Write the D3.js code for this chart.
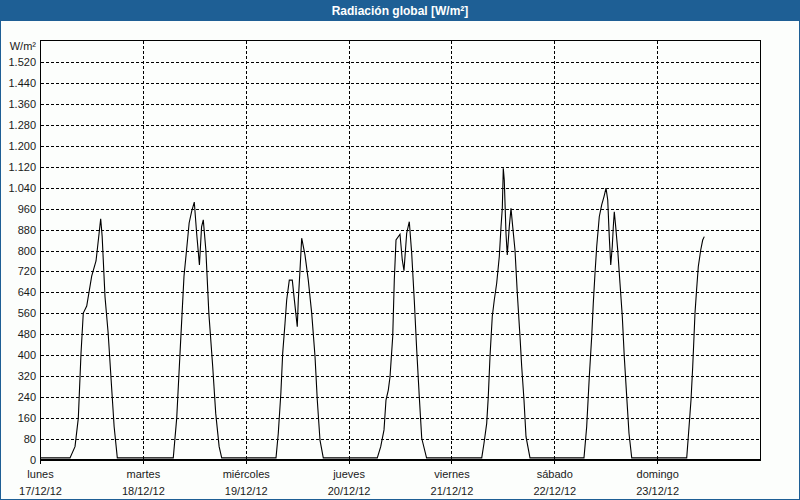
<!DOCTYPE html>
<html><head><meta charset="utf-8">
<script src="https://cdn.jsdelivr.net/npm/d3@7"></script>
<style>
html,body{margin:0;padding:0;background:#fcfefc;}
svg{display:block;}
text{font-family:"Liberation Sans",Arial,sans-serif;}
</style></head>
<body>
<svg id="chart" width="800" height="500"></svg>
<script>
// ---- data ----
const title = "Radiación global [W/m²]";
const unitLabel = "W/m²";
const dayNames = ["lunes","martes","miércoles","jueves","viernes","sábado","domingo"];
const dayDates = ["17/12/12","18/12/12","19/12/12","20/12/12","21/12/12","22/12/12","23/12/12"];
const yTicks = [0,80,160,240,320,400,480,560,640,720,800,880,960,1040,1120,1200,1280,1360,1440,1520];
// hours since 17/12/12 00:00
const hours = [
  0, 7.0, 8.17, 8.94, 9.57, 10.1, 10.9, 12.06, 13.07, 13.46, 14.16, 14.5, 15.17, 15.9, 16.7, 17.3, 18.04,
  31.1, 31.9, 32.67, 33.6, 34.2, 34.8, 35.4, 36.0, 36.55, 37.2, 37.7, 38.1, 38.7, 39.4, 40.3, 41.0, 41.8, 42.4,
  55.07, 55.6, 56.2, 56.63, 57.17, 57.56, 58.17, 58.87, 59.27, 59.73, 60.03, 60.27, 60.67, 61.06, 61.83, 62.6, 63.4, 64.17, 64.7, 65.33, 66.1,
  78.7, 79.5, 80.27, 80.73, 81.27, 81.67, 82.3, 82.67, 83.07, 84.0, 84.53, 84.93, 85.56, 86.17, 86.73, 87.33, 87.9, 88.5, 89.07, 90.2,
  103.07, 103.6, 104.23, 104.6, 105.0, 105.53, 106.0, 106.56, 107.17, 107.57, 107.87, 108.1, 108.33, 108.73, 109.03, 109.5, 109.9, 110.3, 110.83, 111.37, 112.0, 112.4, 112.93, 113.4, 114.33,
  126.93, 127.56, 128.17, 128.73, 129.1, 129.5, 129.9, 130.5, 131.06, 131.6, 132.07, 132.47, 132.83, 133.17, 133.53, 133.77, 134.0, 134.33, 134.8, 135.33, 135.87, 136.33, 136.9, 137.43, 138.07,
  150.9, 151.27, 151.9, 152.3, 152.6, 152.83, 153.2, 153.6, 154.17, 154.63, 155.0
];
const radiation = [
  8, 8, 51, 160, 408, 561, 588, 702, 760, 817, 921, 855, 623, 485, 280, 127, 8,
  8, 160, 408, 702, 802, 905, 950, 985, 866, 745, 890, 917, 802, 560, 356, 178, 51, 8,
  8, 102, 255, 408, 522, 611, 687, 687, 624, 554, 509, 611, 726, 847, 783, 687, 560, 395, 229, 76, 8,
  8, 51, 115, 229, 267, 318, 471, 687, 840, 862, 764, 723, 866, 910, 789, 611, 420, 242, 83, 8,
  8, 64, 140, 242, 395, 548, 611, 675, 777, 891, 961, 1114, 1069, 866, 783, 891, 961, 891, 802, 637, 471, 356, 229, 89, 8,
  8, 127, 318, 471, 598, 713, 815, 929, 974, 1006, 1038, 993, 853, 745, 815, 891, 948, 891, 802, 675, 548, 395, 242, 102, 8,
  8, 89, 229, 356, 471, 560, 649, 738, 802, 840, 853
];

// ---- chart ----
const W = 800, H = 500;
const svg = d3.select("#chart");
const blue = "#1e5f95";
const start = new Date(2012, 11, 17, 0, 0);
const toDate = h => new Date(start.getTime() + h * 3600000);
const data = hours.map((h, i) => ({t: toDate(h), v: radiation[i]}));
const dayTicks = dayNames.map((d, i) => toDate(i * 24));

const x = d3.scaleTime().domain([start, toDate(168)]).range([40, 760]);
const y = d3.scaleLinear().domain([0, 1600]).range([460, 41]);

// background + outer border + title bar
svg.append("rect").attr("x",0).attr("y",0).attr("width",W).attr("height",H).attr("fill","#fcfefc");
svg.append("rect").attr("x",0.5).attr("y",0.5).attr("width",W-1).attr("height",H-1)
  .attr("fill","none").attr("stroke",blue).attr("stroke-width",1);
svg.append("rect").attr("x",0).attr("y",0).attr("width",W).attr("height",21).attr("fill",blue);
svg.append("text").attr("x",W/2).attr("y",15).attr("text-anchor","middle")
  .attr("fill","#fff").attr("font-size","12px").attr("font-weight","bold").text(title);

// horizontal grid
const gGrid = svg.append("g").attr("shape-rendering","crispEdges");
gGrid.selectAll("line.h").data(yTicks.filter(v => v > 0)).join("line")
  .attr("x1",41).attr("x2",760)
  .attr("y1",d => Math.round(y(d)) + 0.5).attr("y2",d => Math.round(y(d)) + 0.5)
  .attr("stroke","#000").attr("stroke-dasharray","3,2");
// vertical grid
gGrid.selectAll("line.v").data(dayTicks.slice(1)).join("line")
  .attr("x1",d => Math.round(x(d)) + 0.5).attr("x2",d => Math.round(x(d)) + 0.5)
  .attr("y1",41).attr("y2",460)
  .attr("stroke","#000").attr("stroke-dasharray","3,2");

// x axis via d3 axis
const xAxis = d3.axisBottom(x).tickValues(dayTicks).tickSize(4).tickFormat(() => "");
const gx = svg.append("g").attr("transform","translate(0,460)").call(xAxis);
gx.select(".domain").remove();
gx.selectAll(".tick line").attr("stroke","#000").attr("shape-rendering","crispEdges");
gx.selectAll(".tick").each(function(d, i) {
  const t = d3.select(this);
  t.append("text").attr("y",18).attr("fill","#1a1a1a").attr("font-size","11px")
    .attr("text-anchor","middle").text(dayNames[i]);
  t.append("text").attr("y",35).attr("fill","#1a1a1a").attr("font-size","11px")
    .attr("text-anchor","middle").text(dayDates[i]);
});

// y axis labels via d3 axis
const fmt = v => d3.format(",")(v).replace(/,/g, ".");
const yAxis = d3.axisLeft(y).tickValues(yTicks).tickSize(0).tickPadding(4).tickFormat(fmt);
const gy = svg.append("g").attr("transform","translate(40,0)").call(yAxis);
gy.select(".domain").remove();
gy.selectAll(".tick text").attr("fill","#1a1a1a").attr("font-size","11px")
  .attr("font-family","Liberation Sans, Arial, sans-serif");
svg.append("text").attr("x",36).attr("y",50).attr("text-anchor","end")
  .attr("fill","#1a1a1a").attr("font-size","11px").text(unitLabel);

// frame
svg.append("rect").attr("x",40.5).attr("y",40.5).attr("width",720).attr("height",419.5)
  .attr("fill","none").attr("stroke","#000").attr("shape-rendering","crispEdges");
svg.append("line").attr("x1",40).attr("x2",761).attr("y1",460).attr("y2",460)
  .attr("stroke","#000").attr("stroke-width",2).attr("shape-rendering","crispEdges");

// data line
const line = d3.line().x(d => x(d.t)).y(d => y(d.v));
svg.append("path").datum(data).attr("d",line).attr("fill","none")
  .attr("stroke","#000").attr("stroke-width",1.1);
</script>
</body></html>
